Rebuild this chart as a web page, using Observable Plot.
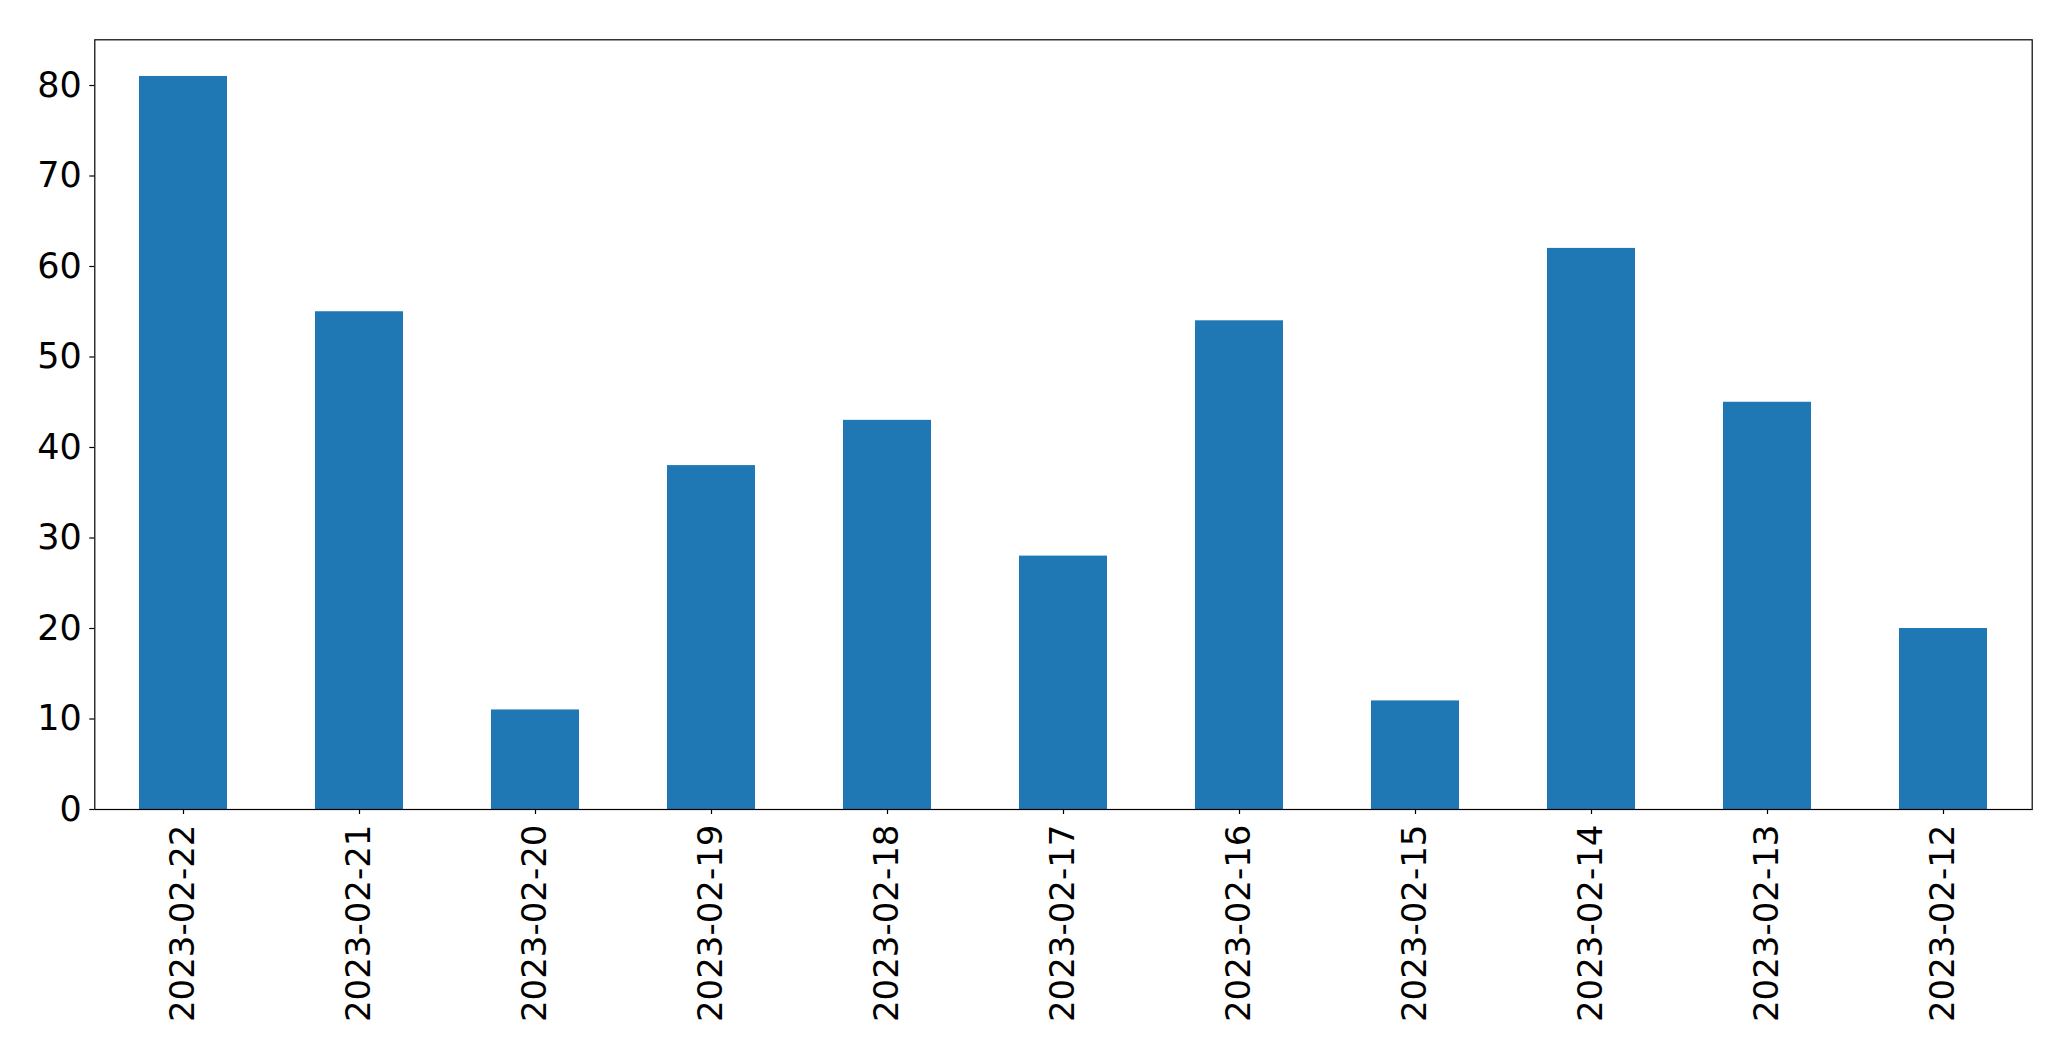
<!DOCTYPE html>
<html>
<head>
<meta charset="utf-8">
<script src="https://cdn.jsdelivr.net/npm/d3@7"></script>
<script src="https://cdn.jsdelivr.net/npm/@observablehq/plot@0.6"></script>
<style>
  html, body { margin: 0; padding: 0; background: white; overflow: hidden; }
  #chart svg { display: block; }
</style>
</head>
<body>
<div id="chart"></div>
<script>
const dates = ["2023-02-22", "2023-02-21", "2023-02-20", "2023-02-19", "2023-02-18", "2023-02-17", "2023-02-16", "2023-02-15", "2023-02-14", "2023-02-13", "2023-02-12"];
const counts = [81, 55, 11, 38, 43, 28, 54, 12, 62, 45, 20];
const yTicks = [0, 10, 20, 30, 40, 50, 60, 70, 80];

const data = dates.map((d, i) => ({date: d, count: counts[i]}));

const chart = Plot.plot({
  width: 2071,
  height: 1061,
  marginLeft: 94.3,
  marginRight: 39.3,
  marginTop: 39.3,
  marginBottom: 252,
  style: {fontFamily: "DejaVu Sans", fontSize: "34px", color: "black", background: "white"},
  x: {type: "band", domain: dates, paddingInner: 0.5, paddingOuter: 0.25, label: null},
  y: {domain: [0, 85.05], label: null},
  marks: [
    Plot.barY(data, {x: "date", y: "count", fill: "#1f77b4"}),
    Plot.frame({stroke: "black", strokeWidth: 1.2}),
    Plot.axisY({ticks: yTicks, tickSize: 5, tickPadding: 8, fontSize: 35, strokeWidth: 1.2, label: null}),
    Plot.axisX({tickRotate: -90, tickSize: 5, tickPadding: 10, fontSize: 34, strokeWidth: 1.2, label: null})
  ]
});
document.getElementById("chart").appendChild(chart);
</script>
</body>
</html>
